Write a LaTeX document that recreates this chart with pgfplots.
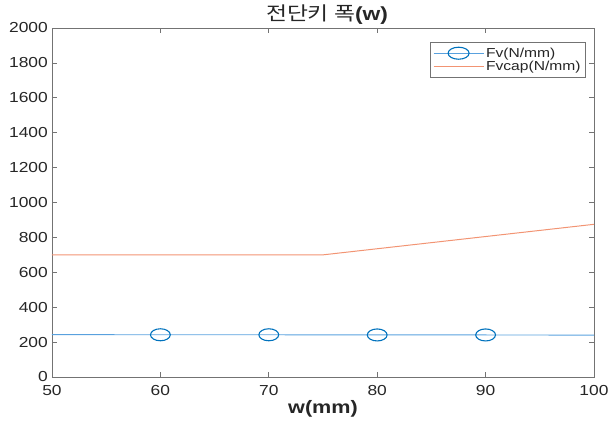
\documentclass[border=0pt]{standalone}
\usepackage{fontspec}
\setmainfont{Liberation Sans}[FakeStretch=1.2]
\newfontfamily\kr{Noto Sans CJK KR}[FakeStretch=1.2]
\usepackage{pgfplots}
\pgfplotsset{compat=1.18}
\definecolor{mblue}{rgb}{0,0.447,0.741}
\definecolor{lblue}{rgb}{0.35,0.63,0.87}
\definecolor{morange}{rgb}{0.95,0.58,0.45}
\definecolor{axgray}{rgb}{0.45,0.45,0.45}
\definecolor{txtgray}{rgb}{0.15,0.15,0.15}
\pgfplotsset{
  fvleg/.style={legend image code/.code={
    \draw[##1] (0pt,0pt) -- (50pt,0pt);
    \draw[mblue, line width=1.1pt] (25pt,0pt) ellipse[x radius=10.5pt, y radius=6pt];
  }},
  capleg/.style={legend image code/.code={\draw[##1] (0pt,0pt) -- (50pt,0pt);}},
}
\begin{document}
\begin{tikzpicture}
\useasboundingbox (-52pt,-47pt) rectangle (556pt,377pt);
\begin{axis}[
  at={(0pt,0pt)}, anchor=south west,
  scale only axis,
  width=542pt, height=349pt,
  xmin=50, xmax=100, ymin=0, ymax=2000,
  xtick={50,60,...,100}, ytick={0,200,...,2000},
  tick align=inside, tick pos=both,
  major tick length=5pt,
  axis line style={axgray, line width=0.9pt},
  every tick/.style={axgray, line width=0.8pt},
  /pgf/number format/assume math mode=true,
  /pgf/number format/1000 sep={},
  ticklabel style={font=\fontsize{14.5}{16}\selectfont, text=txtgray, inner sep=1pt},
  yticklabel style={xshift=-3pt},
  xticklabel style={yshift=-7.5pt},
  title={{\kr 전단키 폭}\textbf{(w)}},
  title style={font=\fontsize{19}{21}\selectfont, text=txtgray, yshift=-6pt, xshift=4pt},
  xlabel={\textbf{w(mm)}},
  xlabel style={font=\fontsize{18}{20}\selectfont, text=txtgray, yshift=0pt},
  legend style={at={(0.985,0.96)}, anchor=north east, draw=axgray, line width=0.6pt,
    font=\fontsize{13}{13.5}\selectfont, text=txtgray, inner xsep=3pt, inner ysep=3.5pt,
    row sep=-2pt, cells={anchor=west}},
]
\addplot[lblue, line width=0.9pt, mark=o, mark indices={2,3,4,5},
  mark options={mblue, line width=1.1pt, mark size=6pt, xscale=1.65}, fvleg]
  coordinates {(50,243) (60,242) (70,242) (80,241) (90,241) (100,240)};
\addlegendentry{Fv(N/mm)}
\addplot[morange, line width=1pt, no marks, capleg]
  coordinates {(50,700) (75,700) (100,875)};
\addlegendentry{Fvcap(N/mm)}
\end{axis}
\end{tikzpicture}
\end{document}
